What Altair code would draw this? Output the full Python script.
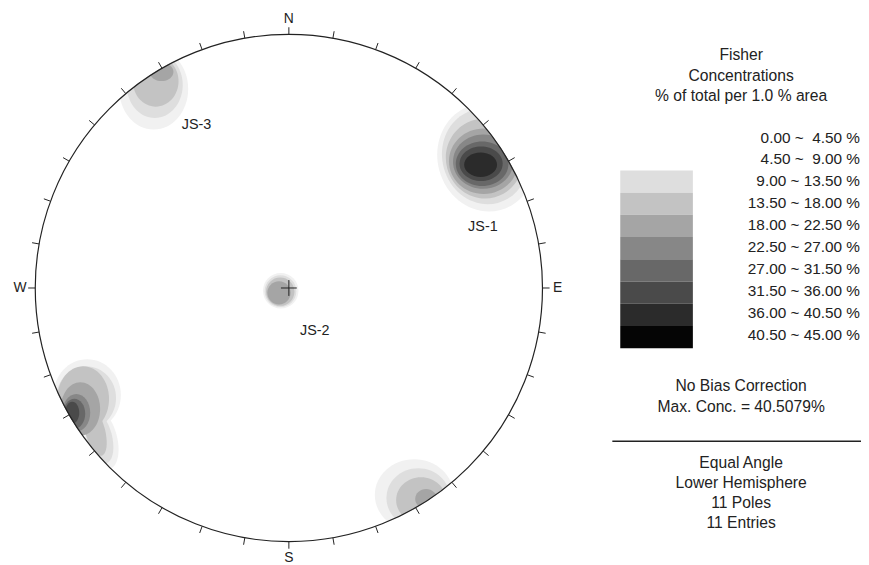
import math
import altair as alt
import pandas as pd

# ---------------- values ----------------
# density contour blobs, net coordinates in % of the primitive-circle radius
blob_cluster = (["JS-1"] * 8 + ["JS-2"] * 4 + ["JS-3"] * 4 +
                ["SW"] * 7 + ["SW-tail"] * 3 + ["SE"] * 4)
blob_level = [1, 2, 3, 4, 5, 6, 7, 8,
              1, 2, 3, 4,
              1, 2, 3, 4,
              1, 2, 3, 4, 5, 6, 7,
              1, 2, 3,
              1, 2, 3, 4]
blob_u = [77.9, 77.5, 77.1, 76.8, 76.6, 76.2, 75.8, 75.6,
          -3.2, -3.3, -3.4, -3.9,
          -53.3, -52.9, -52.5, -50.2,
          -79.5, -79.9, -81.1, -82.2, -83.8, -84.6, -85.4,
          -74.0, -74.8, -76.4,
          49.4, 51.0, 52.1, 54.1]
blob_v = [51.4, 51.8, 51.0, 50.0, 49.8, 49.0, 49.0, 48.6,
          -1.1, -1.25, -1.45, -1.9,
          78.5, 80.0, 81.5, 85.2,
          -42.2, -43.4, -43.75, -47.7, -49.2, -49.6, -49.2,
          -59.4, -58.6, -56.25,
          -81.6, -82.8, -83.6, -83.2]
blob_ry = [21.4, 18.9, 15.8, 12.9, 10.7, 8.8, 6.8, 4.8,
           7.0, 6.25, 5.6, 4.6,
           16.0, 13.0, 10.0, 3.6,
           14.1, 12.5, 12.9, 10.5, 7.4, 5.9, 4.3,
           12.5, 10.9, 10.2,
           14.1, 11.7, 9.0, 3.9]
blob_aspect = [0.90, 0.90, 0.96, 1.06, 1.11, 1.18, 1.25, 1.35,
               1.0, 1.0, 1.0, 1.0,
               0.85, 0.85, 0.90, 1.30,
               0.94, 0.94, 0.79, 0.74, 0.74, 0.73, 0.64,
               0.50, 0.46, 0.38,
               1.10, 1.07, 1.09, 1.10]
blob_tilt = [345, 345, 345, 0, 0, 0, 0, 0,
             0, 0, 0, 0,
             0, 0, 0, 0,
             0, 0, 0, 0, 0, 0, 0,
             345, 345, 345,
             0, 0, 0, 0]

level_lo = [0.00, 4.50, 9.00, 13.50, 18.00, 22.50, 27.00, 31.50, 36.00, 40.50]
level_hi = [4.50, 9.00, 13.50, 18.00, 22.50, 27.00, 31.50, 36.00, 40.50, 45.00]
legend_levels = [2, 3, 4, 5, 6, 7, 8, 9]

set_names = ["JS-1", "JS-2", "JS-3"]
set_u = [76.5, 10.2, -36.4]
set_v = [24.2, -16.8, 64.3]

directions = ["N", "E", "S", "W"]
direction_az = [0, 90, 180, 270]

title_lines = ["Fisher", "Concentrations", "% of total per 1.0 % area"]
info_lines = ["No Bias Correction", "Max. Conc. = 40.5079%"]
net_lines = ["Equal Angle", "Lower Hemisphere", "11 Poles", "11 Entries"]

# ---------------- layout / style ----------------
W, H = 861, 557
CX, CY = 283.5, 280.0       # centre of the net in chart pixels
PX = 2.56                   # pixels per 1 % of net radius
R = 100 * PX
X_DOM = [-CX / PX, (W - CX) / PX]
Y_DOM = [(CY - H) / PX, CY / PX]
DIR_R = [106, 106, 106.4, 106]   # label distance from centre, % of radius
GREYS = ["#f1f1f1", "#dedede", "#c3c3c3", "#a5a5a5", "#878787",
         "#686868", "#4a4a4a", "#2b2b2b", "#050505"]
FONT = "Liberation Sans"
INK = "#222222"

xs = alt.Scale(domain=X_DOM, nice=False, zero=False)
ys = alt.Scale(domain=Y_DOM, nice=False, zero=False)
ss = alt.Scale(type="pow", exponent=2, domain=[0, 100], range=[0, (200 * PX) ** 2])
cs = alt.Scale(domain=list(range(1, 10)), range=GREYS)


def X(f):
    return alt.X(f"{f}:Q", scale=xs, axis=None)


def Y(f):
    return alt.Y(f"{f}:Q", scale=ys, axis=None)


def ellipse_path(a):
    k = 0.5523
    return (f"M 0 -1 C {k*a:.4f} -1 {a:.4f} {-k:.4f} {a:.4f} 0 "
            f"C {a:.4f} {k:.4f} {k*a:.4f} 1 0 1 "
            f"C {-k*a:.4f} 1 {-a:.4f} {k:.4f} {-a:.4f} 0 "
            f"C {-a:.4f} {-k:.4f} {-k*a:.4f} -1 0 -1 Z")


blobs = pd.DataFrame({
    "cluster": blob_cluster, "level": blob_level, "u": blob_u, "v": blob_v,
    "ry": blob_ry, "aspect": blob_aspect, "tilt": blob_tilt,
})
blobs["form"] = blobs["aspect"].map(lambda a: f"a{a:.2f}")
forms = sorted(set(blobs["form"]))
paths = [ellipse_path(float(f[1:])) for f in forms]

contours = alt.Chart(blobs).mark_point(filled=True, opacity=1, strokeWidth=0).encode(
    x=X("u"), y=Y("v"),
    size=alt.Size("ry:Q", scale=ss, legend=None),
    shape=alt.Shape("form:N", scale=alt.Scale(domain=forms, range=paths), legend=None),
    angle=alt.Angle("tilt:Q", scale=None),
    color=alt.Color("level:O", scale=cs, legend=None),
    order=alt.Order("level:Q"),
)

centre = pd.DataFrame({"u": [0.0], "v": [0.0], "ry": [100.0]})

mask = alt.Chart(centre).mark_arc(
    radius=R + 46, radius2=R + 0.6, theta=0, theta2=2 * math.pi,
    color="white", strokeWidth=0,
).encode(x=X("u"), y=Y("v"))

outline = alt.Chart(centre).mark_point(
    shape="circle", filled=False, color=INK, strokeWidth=1.2, opacity=1
).encode(x=X("u"), y=Y("v"), size=alt.Size("ry:Q", scale=ss, legend=None))

ticks = alt.Chart(pd.DataFrame({"az": list(range(0, 360, 10))})).transform_calculate(
    u1="100*sin(datum.az*PI/180)", v1="100*cos(datum.az*PI/180)",
    u2="102.8*sin(datum.az*PI/180)", v2="102.8*cos(datum.az*PI/180)",
).mark_rule(color=INK, strokeWidth=1).encode(
    x=X("u1"), y=Y("v1"), x2="u2:Q", y2="v2:Q")

dirs = alt.Chart(pd.DataFrame({"d": directions, "az": direction_az, "r": DIR_R})).transform_calculate(
    u="datum.r*sin(datum.az*PI/180)", v="datum.r*cos(datum.az*PI/180)",
).mark_text(font=FONT, fontSize=14, color=INK, align="center", baseline="middle").encode(
    x=X("u"), y=Y("v"), text="d:N")

cross = alt.Chart(centre).mark_point(
    shape="M -1 0 L 1 0 M 0 -1 L 0 1", size=256, filled=False,
    color=INK, strokeWidth=1, opacity=1,
).encode(x=X("u"), y=Y("v"))

sets = alt.Chart(pd.DataFrame({"name": set_names, "u": set_u, "v": set_v})).mark_text(
    font=FONT, fontSize=14.5, color=INK, align="center", baseline="middle"
).encode(x=X("u"), y=Y("v"), text="name:N")

# legend swatches
BAND_TOP, BAND_STEP = 161.3, 22.45
BX0, BX1 = 618.0, 691.3
bands = alt.Chart(pd.DataFrame({"level": legend_levels})).transform_calculate(
    u1=f"({BX0}-{CX})/{PX}", u2=f"({BX1}-{CX})/{PX}",
    v1=f"({CY}-({BAND_TOP}+{BAND_STEP}*(datum.level-2)))/{PX}",
    v2=f"({CY}-({BAND_TOP}+{BAND_STEP}*(datum.level-1)))/{PX}",
).mark_rect(strokeWidth=0).encode(
    x=X("u1"), x2="u2:Q", y=Y("v1"), y2="v2:Q",
    color=alt.Color("level:O", scale=cs, legend=None))


def range_label(lo, hi):
    gap = " \u00a0" if hi < 10 else " "
    return f"{lo:.2f} ~{gap}{hi:.2f} %"


ROW0, ROW_STEP, ROW_RIGHT = 133.2, 22.1, 860.0
rows_df = pd.DataFrame({"k": list(range(len(level_lo))),
                        "label": [range_label(a, b) for a, b in zip(level_lo, level_hi)]})
rows = alt.Chart(rows_df).transform_calculate(
    u=f"({ROW_RIGHT}-{CX})/{PX}",
    v=f"({CY}-({ROW0}+{ROW_STEP}*datum.k))/{PX}",
).mark_text(font=FONT, fontSize=15.5, color=INK, align="right", baseline="alphabetic").encode(
    x=X("u"), y=Y("v"), text="label:N")

LEG_CX = 740.0
note_text = title_lines + info_lines + net_lines
note_y = [50.3, 71.3, 91.5, 384.3, 405.3, 462.0, 482.0, 502.0, 522.0]
notes = alt.Chart(pd.DataFrame({"t": note_text, "ypx": note_y})).transform_calculate(
    u=f"({LEG_CX}-{CX})/{PX}", v=f"({CY}-datum.ypx)/{PX}",
).mark_text(font=FONT, fontSize=15.8, color=INK, align="center", baseline="alphabetic").encode(
    x=X("u"), y=Y("v"), text="t:N")

sep = alt.Chart(centre).mark_rule(color=INK, strokeWidth=1.3).encode(
    x=alt.value(610), x2=alt.value(W), y=alt.value(434.7))

chart = alt.layer(
    contours, mask, outline, ticks, dirs, cross, sets, bands, rows, notes, sep
).properties(
    width=W, height=H, padding=0,
    autosize=alt.AutoSizeParams(type="none"),
).configure_view(strokeWidth=0)

chart.save("out.html", embed_options={"renderer": "svg", "actions": False})
